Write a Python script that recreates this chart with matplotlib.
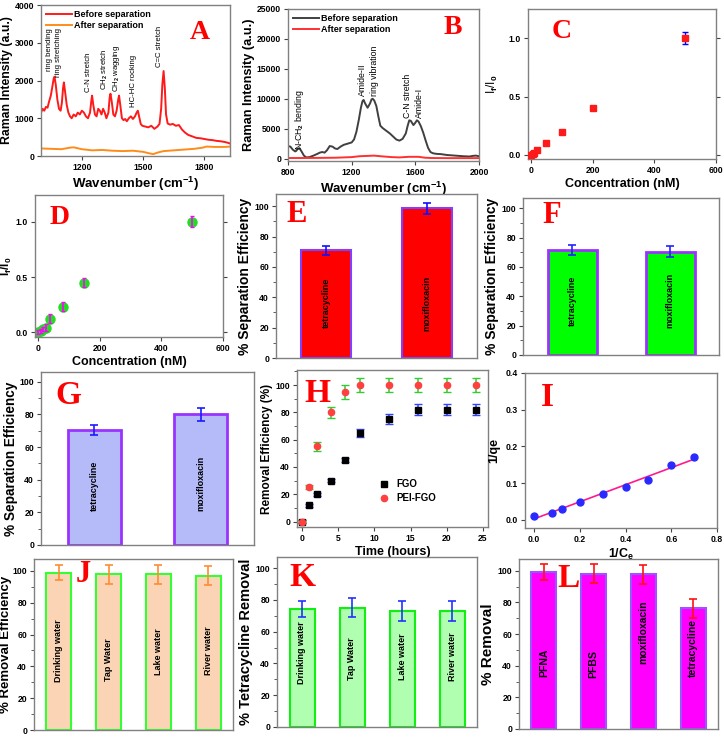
import numpy as np
import matplotlib
matplotlib.use("Agg")
import matplotlib.pyplot as plt
from matplotlib.ticker import MultipleLocator

# ---------------- data ----------------
# A: Raman spectra (tetracycline / SERS)
a_wn_before = [1000, 1008, 1016, 1024, 1032, 1040, 1048, 1056, 1062, 1066, 1072, 1080, 1088, 1096,
               1102, 1108, 1112, 1118, 1126, 1134, 1142, 1150, 1160, 1170, 1180, 1190, 1200, 1210,
               1220, 1230, 1240, 1246, 1250, 1256, 1264, 1272, 1280, 1288, 1296, 1304, 1312, 1320,
               1330, 1336, 1340, 1346, 1354, 1362, 1370, 1378, 1382, 1388, 1396, 1404, 1412, 1420,
               1430, 1440, 1450, 1460, 1468, 1474, 1480, 1488, 1496, 1510, 1525, 1540, 1555, 1570,
               1580, 1588, 1594, 1600, 1606, 1612, 1620, 1632, 1645, 1660, 1675, 1690, 1705, 1720,
               1740, 1760, 1780, 1800, 1820, 1840, 1860, 1880, 1900, 1915, 1925]
a_int_before = [1150, 1250, 1200, 1300, 1280, 1450, 1600, 1850, 2050, 2100, 1900, 1500, 1250, 1200,
                1400, 1800, 1950, 1700, 1350, 1150, 1050, 1000, 1100, 1050, 1150, 1100, 1200, 1150,
                1050, 1000, 1150, 1450, 1600, 1350, 1100, 1050, 1250, 1200, 1100, 1250, 1150, 1000,
                1150, 1550, 1650, 1450, 1100, 1050, 1200, 1500, 1600, 1350, 1000, 950, 980, 920,
                1000, 1050, 980, 1050, 1150, 1200, 1050, 850, 800, 780, 760, 800, 720, 780,
                850, 1250, 1900, 2250, 1800, 1100, 860, 830, 850, 800, 820, 700, 620, 560,
                520, 480, 470, 450, 430, 420, 400, 390, 370, 350, 330]
a_wn_after = [1000, 1050, 1100, 1140, 1160, 1200, 1250, 1300, 1350, 1400, 1450, 1500, 1530, 1550,
              1570, 1600, 1650, 1700, 1750, 1790, 1810, 1850, 1900, 1925]
a_int_after = [200, 190, 180, 220, 230, 180, 150, 160, 140, 130, 140, 110, 70, 50,
               90, 130, 150, 170, 190, 220, 250, 240, 240, 250]
a_bands = ["ring bending", "ring stretching", "C-N stretch", "CH$_\\mathrm{2}$ stretch",
           "CH$_\\mathrm{2}$ wagging", "HC-HC rocking", "C=C stretch"]
a_band_wn = [1040, 1088, 1232, 1315, 1368, 1452, 1578]
a_band_top = [2250, 2100, 1700, 1750, 1700, 1300, 2350]

# B: Raman spectra (protein)
b_wn_before = [800, 815, 830, 845, 852, 860, 872, 885, 900, 915, 935, 960, 985, 1000, 1015, 1030,
               1045, 1062, 1080, 1095, 1110, 1130, 1150, 1175, 1200, 1215, 1230, 1245, 1258, 1268,
               1275, 1285, 1300, 1315, 1325, 1332, 1342, 1355, 1368, 1380, 1395, 1415, 1440, 1460,
               1480, 1500, 1520, 1540, 1552, 1562, 1572, 1588, 1600, 1610, 1620, 1635, 1650, 1665,
               1680, 1695, 1710, 1730, 1760, 1800, 1850, 1900, 1940, 1960, 1980, 2000]
b_int_before = [2100, 2000, 1500, 1200, 1300, 1600, 1750, 1200, 500, 200, 250, 500, 800, 1000, 1100, 1000,
                1400, 2100, 2000, 1700, 1600, 2000, 2300, 2500, 2700, 3200, 4500, 6500, 8500, 9600,
                9800, 9200, 8500, 9200, 9900, 10000, 9700, 8800, 7000, 5500, 5100, 4700, 4200, 3700,
                3200, 3000, 3300, 4200, 5500, 6400, 6300, 5600, 6000, 6400, 6200, 5400, 4300, 3000,
                1800, 1100, 900, 800, 750, 600, 500, 400, 350, 450, 500, 400]
b_wn_after = [800, 900, 1000, 1100, 1200, 1250, 1300, 1340, 1380, 1450, 1500, 1560, 1620, 1660,
              1700, 1800, 2000]
b_int_after = [100, 100, 120, 150, 250, 400, 450, 500, 400, 250, 200, 300, 300, 150, 100, 80, 80]
b_bands = ["N-CH$_\\mathrm{2}$ bending", "Amide-II", "ring vibration", "C-N stretch", "Amide-I"]
b_band_wn = [875, 1270, 1345, 1552, 1625]
b_band_bottom = [1500, 10400, 10400, 6800, 6800]

# C / D: calibration If/I0 vs concentration
c_conc = [0, 5, 10, 20, 50, 100, 200, 500]
c_ratio = [0.0, 0.005, 0.015, 0.04, 0.1, 0.2, 0.4, 1.0]
c_err = [0.01, 0.01, 0.01, 0.01, 0.01, 0.01, 0.01, 0.05]
d_conc = [0, 8, 15, 25, 40, 80, 150, 500]
d_ratio = [0.0, 0.01, 0.025, 0.04, 0.12, 0.23, 0.45, 1.0]
d_err = [0.02, 0.02, 0.02, 0.03, 0.04, 0.04, 0.04, 0.05]

# E / F / G: separation efficiency
drugs = ["tetracycline", "moxifloxacin"]
e_vals = [71, 98.5]
e_errs = [3, 3.8]
f_vals = [71.5, 70.5]
f_errs = [3.4, 4]
g_vals = [70.6, 80]
g_errs = [3, 4]

# H: removal kinetics
h_time = [0, 1, 2, 4, 6, 8, 12, 16, 20, 24]
h_fgo = [0, 12, 20, 30, 45, 65, 75, 82, 82, 82]
h_fgo_err = [1, 1, 1, 1, 1.5, 3, 3.5, 4, 4, 4]
h_pei = [0, 25, 55, 80, 95, 100, 100, 100, 100, 100]
h_pei_err = [1, 1.5, 3, 4, 5, 5, 5, 5, 5, 5]

# I: Langmuir plot
i_inv_ce = [0.0, 0.08, 0.12, 0.2, 0.3, 0.4, 0.5, 0.6, 0.7]
i_inv_qe = [0.01, 0.02, 0.03, 0.05, 0.07, 0.09, 0.11, 0.15, 0.17]

# J / K: real water samples
waters = ["Drinking water", "Tap Water", "Lake water", "River water"]
j_vals = [99, 98, 98, 97]
j_errs = [5, 6, 6, 6]
k_vals = [74, 75, 73, 73]
k_errs = [5, 6, 6, 6]

# L: different pollutants
pollutants = ["PFNA", "PFBS", "moxifloxacin", "tetracycline"]
l_vals = [99.5, 98.3, 98, 76.5]
l_errs = [5, 6, 6, 6]

# ---------------- figure ----------------
W, H = 724, 737
GRAY = "#808080"

plt.rcParams["font.family"] = ["Liberation Sans", "DejaVu Sans"]
plt.rcParams["font.weight"] = "bold"
plt.rcParams["axes.labelweight"] = "bold"
plt.rcParams["mathtext.fontset"] = "custom"
plt.rcParams["mathtext.rm"] = "Liberation Sans"
plt.rcParams["mathtext.bf"] = "Liberation Sans:bold"
plt.rcParams["mathtext.it"] = "Liberation Sans:italic"
plt.rcParams["mathtext.default"] = "bf"

fig = plt.figure(figsize=(W / 100, H / 100), dpi=100)


def add_panel(l, t, r, b):
    ax = fig.add_axes([l / W, 1 - b / H, (r - l) / W, (b - t) / H])
    for s in ax.spines.values():
        s.set_color(GRAY)
        s.set_linewidth(1.0)
    ax.tick_params(labelsize=6.2, length=3, width=0.8, color="#444444", pad=2)
    ax.tick_params(which="minor", length=2, width=0.6, color="#444444")
    return ax


def letter(ax, s, x, y, size=22):
    ax.text(x, y, s, transform=ax.transAxes, color="red", fontsize=size, fontweight="bold",
            family=["Liberation Serif", "DejaVu Serif"], ha="center", va="center")


def bar_panel(ax, labels, vals, errs, fc, ec, errc, text_y, fs=6.5, top=107.5, elw=1.5):
    x = np.arange(1, len(vals) + 1)
    ax.bar(x, vals, width=0.5, color=fc, edgecolor=ec, linewidth=elw, zorder=2)
    ax.errorbar(x, vals, yerr=errs, fmt="none", ecolor=errc, elinewidth=1.2,
                capsize=3, capthick=1.2, zorder=3)
    for xi, lab, ty in zip(x, labels, text_y):
        ax.text(xi, ty, lab, rotation=90, ha="center", va="center", fontsize=fs, fontweight="bold")
    ax.set_xlim(0.5, len(vals) + 0.5)
    ax.set_ylim(0, top)
    ax.set_xticks([])
    ax.yaxis.set_major_locator(MultipleLocator(20))
    ax.yaxis.set_minor_locator(MultipleLocator(10))


# A
ax = add_panel(41, 5, 230, 156)
ax.plot(a_wn_before, a_int_before, color="#ff1a1a", lw=1.4, label="Before separation")
ax.plot(a_wn_after, a_int_after, color="#ff8c1a", lw=1.4, label="After separation")
for lab, xw, yt in zip(a_bands, a_band_wn, a_band_top):
    ax.text(xw, yt, lab, rotation=90, ha="center", va="bottom", fontsize=5.6, fontweight="normal")
ax.set_xlim(1000, 1925)
ax.set_ylim(0, 4000)
ax.set_xticks([1200, 1500, 1800])
ax.set_yticks([0, 1000, 2000, 3000, 4000])
ax.set_xlabel("Wavenumber (cm$^{-1}$)", fontsize=9.5, labelpad=2)
ax.set_ylabel("Raman Intensity (a.u.)", fontsize=8.8, labelpad=1)
ax.legend(loc="upper left", frameon=False, fontsize=6.5, handlelength=2.8,
          borderaxespad=0.2, labelspacing=0.2, handletextpad=0.3)
letter(ax, "A", 0.84, 0.815, 20)

# B
ax = add_panel(288, 9, 479, 161)
ax.plot(b_wn_before, b_int_before, color="#404040", lw=1.4, label="Before separation")
ax.plot(b_wn_after, b_int_after, color="#ff3030", lw=1.4, label="After separation")
for lab, xw, yb in zip(b_bands, b_band_wn, b_band_bottom):
    ax.text(xw, yb, lab, rotation=90, ha="center", va="bottom", fontsize=6.3, fontweight="normal")
ax.set_xlim(800, 2000)
ax.set_ylim(-400, 25000)
ax.set_xticks([800, 1200, 1600, 2000])
ax.set_yticks([0, 5000, 10000, 15000, 20000, 25000])
ax.set_xlabel("Wavenumber (cm$^{-1}$)", fontsize=9.5, labelpad=2)
ax.set_ylabel("Raman Intensity (a.u.)", fontsize=9.2, labelpad=1)
ax.legend(loc="upper left", frameon=False, fontsize=6.5, handlelength=2.8,
          borderaxespad=0.2, labelspacing=0.2, handletextpad=0.3)
letter(ax, "B", 0.864, 0.875, 20)

# C
ax = add_panel(528, 9, 716, 159)
ax.errorbar(c_conc, c_ratio, yerr=c_err, fmt="s", color="#ff1a1a", ms=4.5, ecolor="blue",
            elinewidth=1, capsize=2, zorder=3)
ax.set_xlim(-10, 600)
ax.set_ylim(-0.035, 1.25)
ax.set_xticks([0, 200, 400, 600])
ax.set_yticks([0, 0.5, 1.0])
ax.tick_params(right=True)
ax.set_xlabel("Concentration (nM)", fontsize=9, labelpad=2)
ax.set_ylabel("I$_\\mathrm{f}$/I$_\\mathrm{0}$", fontsize=8.5, fontweight="normal", labelpad=6)
letter(ax, "C", 0.18, 0.847, 20)

# D
ax = add_panel(35, 195, 223, 337)
ax.plot(d_conc, d_ratio, "o", color="#22dd22", ms=6.5, zorder=2)
ax.errorbar(d_conc, d_ratio, yerr=d_err, fmt="none", ecolor="#ff00ff", elinewidth=1.2,
            capsize=1.5, zorder=3)
ax.set_xlim(-10, 600)
ax.set_ylim(-0.045, 1.245)
ax.set_xticks([0, 200, 400, 600])
ax.set_yticks([0, 0.5, 1.0])
ax.tick_params(right=True)
ax.set_xlabel("Concentration (nM)", fontsize=9, labelpad=2)
ax.set_ylabel("I$_f$/I$_0$", fontsize=8.5, labelpad=1)
letter(ax, "D", 0.133, 0.845, 20)

# E
ax = add_panel(276, 194, 477, 358)
bar_panel(ax, drugs, e_vals, e_errs, "#ff0000", "#8040ff", "#1010ff", [36, 36], top=108)
ax.set_ylabel("% Separation Efficiency", fontsize=10, labelpad=2)
letter(ax, "E", 0.104, 0.872, 22)

# F
ax = add_panel(523, 198, 719, 355)
bar_panel(ax, drugs, f_vals, f_errs, "#00ff00", "#9933ff", "#2222ff", [37, 37], top=107, elw=2)
ax.set_ylabel("% Separation Efficiency", fontsize=10, labelpad=2)
letter(ax, "F", 0.148, 0.89, 22)

# G
ax = add_panel(41, 372, 254, 545)
bar_panel(ax, drugs, g_vals, g_errs, "#b5baf8", "#9933ff", "#1a1aff", [36, 38], top=106, elw=2)
ax.set_ylabel("% Separation Efficiency", fontsize=9.8, labelpad=1)
letter(ax, "G", 0.127, 0.867, 24)

# H
ax = add_panel(297, 370, 488, 527)
ax.errorbar(h_time, h_fgo, yerr=h_fgo_err, fmt="s", color="black", ms=4, ecolor="#3344ff",
            elinewidth=1.1, capsize=3, zorder=3)
ax.errorbar(h_time, h_pei, yerr=h_pei_err, fmt="o", color="#ff4040", ms=4.5, ecolor="#33cc33",
            elinewidth=1.1, capsize=3, zorder=3)
ax.plot([], [], "s", color="black", ms=4, label="FGO")
ax.plot([], [], "o", color="#ff4040", ms=4.5, label="PEI-FGO")
ax.set_xlim(-0.7, 25.7)
ax.set_ylim(-4, 111)
ax.set_xticks([0, 5, 10, 15, 20, 25])
ax.yaxis.set_major_locator(MultipleLocator(20))
ax.yaxis.set_minor_locator(MultipleLocator(10))
ax.set_xlabel("Time (hours)", fontsize=9, labelpad=2)
ax.set_ylabel("Removal Efficiency (%)", fontsize=8.5, labelpad=2)
ax.legend(loc="upper left", bbox_to_anchor=(0.36, 0.36), frameon=False, fontsize=7,
          handletextpad=0.2, labelspacing=0.4)
letter(ax, "H", 0.105, 0.853, 24)

# I
ax = add_panel(525, 373, 717, 528)
slope, icpt = np.polyfit(i_inv_ce, i_inv_qe, 1)
fit_x = np.array([min(i_inv_ce), max(i_inv_ce)])
ax.plot(fit_x, slope * fit_x + icpt, color="#ff1a8c", lw=1.2, zorder=2)
ax.plot(i_inv_ce, i_inv_qe, "o", color="#2a2aff", ms=5, zorder=3)
ax.set_xlim(-0.04, 0.8)
ax.set_ylim(-0.022, 0.4)
ax.set_xticks([0.0, 0.2, 0.4, 0.6, 0.8])
ax.set_yticks([0.0, 0.1, 0.2, 0.3, 0.4])
ax.set_xlabel("1/C$_e$", fontsize=9, labelpad=2)
ax.set_ylabel("1/qe", fontsize=9, labelpad=4)
letter(ax, "I", 0.115, 0.845, 24)

# J
ax = add_panel(34, 559, 233, 730)
bar_panel(ax, waters, j_vals, j_errs, "#fad4b4", "#33ff33", "#ff8c33", [50, 44, 49, 50], top=107.5)
ax.set_ylabel("% Removal Efficiency", fontsize=9.5, labelpad=0.5)
letter(ax, "J", 0.246, 0.909, 22)

# K
ax = add_panel(277, 557, 477, 727)
bar_panel(ax, waters, k_vals, k_errs, "#b0ffb0", "#11ee11", "#2233ff", [47, 43, 44, 44], fs=6.5, top=107)
ax.set_ylabel("% Tetracycline Removal", fontsize=10.5, labelpad=2)
letter(ax, "K", 0.125, 0.88, 24)

# L
ax = add_panel(519, 559, 718, 729)
bar_panel(ax, pollutants, l_vals, l_errs, "#ff00ff", "#9955ff", "#ff1111", [42, 41, 61, 51], fs=7.5, top=107.5)
ax.set_ylabel("% Removal", fontsize=11, labelpad=2)
letter(ax, "L", 0.25, 0.888, 24)

fig.savefig("out.png", dpi=100)
plt.close(fig)
